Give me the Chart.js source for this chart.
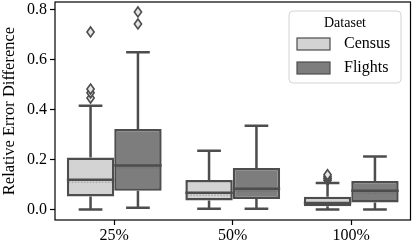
<!DOCTYPE html>
<html>
<head>
<meta charset="utf-8">
<script src="https://cdn.jsdelivr.net/npm/chart.js@4"></script>
<style>
  body { margin: 0; background: #fff; }
  canvas { display: block; }
</style>
</head>
<body>
<canvas id="boxChart" width="412" height="246"></canvas>
<script>
const categories = ["25%", "50%", "100%"];
const yTicks = [0.0, 0.2, 0.4, 0.6, 0.8];

// Census boxes
const censusLow = [0.0, 0.003, 0.0];
const censusQ1 = [0.053, 0.037, 0.014];
const censusMed = [0.12, 0.068, 0.027];
const censusQ3 = [0.209, 0.119, 0.052];
const censusHigh = [0.416, 0.236, 0.107];
const censusOut = [[0.447, 0.468, 0.483, 0.712], [], [0.118, 0.125, 0.132, 0.14]];

// Flights boxes
const flightsLow = [0.007, 0.003, 0.0];
const flightsQ1 = [0.076, 0.043, 0.029];
const flightsMed = [0.177, 0.084, 0.076];
const flightsQ3 = [0.323, 0.167, 0.115];
const flightsHigh = [0.631, 0.336, 0.213];
const flightsOut = [[0.744, 0.792], [], []];

const seriesNames = ["Census", "Flights"];
const fills = ["#d3d3d3", "#7d7d7d"];
const edge = "#4d4d4d";
const font = "Liberation Serif";

const stats = [
  { low: censusLow, med: censusMed, high: censusHigh, out: censusOut },
  { low: flightsLow, med: flightsMed, high: flightsHigh, out: flightsOut }
];

const boxExtras = {
  id: "boxExtras",
  beforeDatasetsDraw(chart) {
    // whiskers and caps
    const ctx = chart.ctx, y = chart.scales.y;
    ctx.save();
    ctx.strokeStyle = edge;
    ctx.lineWidth = 2.5;
    chart.data.datasets.forEach((ds, d) => {
      chart.getDatasetMeta(d).data.forEach((bar, i) => {
        const s = stats[d];
        const half = bar.width / 4;
        ctx.beginPath();
        ctx.moveTo(bar.x, y.getPixelForValue(s.low[i]));
        ctx.lineTo(bar.x, y.getPixelForValue(ds.data[i][0]));
        ctx.moveTo(bar.x, y.getPixelForValue(ds.data[i][1]));
        ctx.lineTo(bar.x, y.getPixelForValue(s.high[i]));
        ctx.moveTo(bar.x - half, y.getPixelForValue(s.low[i]));
        ctx.lineTo(bar.x + half, y.getPixelForValue(s.low[i]));
        ctx.moveTo(bar.x - half, y.getPixelForValue(s.high[i]));
        ctx.lineTo(bar.x + half, y.getPixelForValue(s.high[i]));
        ctx.stroke();
      });
    });
    ctx.restore();
  },
  afterDatasetsDraw(chart) {
    const ctx = chart.ctx, y = chart.scales.y;
    ctx.save();
    chart.data.datasets.forEach((ds, d) => {
      chart.getDatasetMeta(d).data.forEach((bar, i) => {
        const s = stats[d];
        const left = bar.x - bar.width / 2, right = bar.x + bar.width / 2;
        const my = y.getPixelForValue(s.med[i]);
        // faint dotted line under median
        ctx.strokeStyle = "rgba(90,90,90,0.5)";
        ctx.lineWidth = 1;
        ctx.setLineDash([1.5, 1.5]);
        ctx.beginPath();
        ctx.moveTo(left + 2, my + 2.5);
        ctx.lineTo(right - 2, my + 2.5);
        ctx.stroke();
        ctx.setLineDash([]);
        // median
        ctx.strokeStyle = edge;
        ctx.lineWidth = 2.5;
        ctx.beginPath();
        ctx.moveTo(left, my);
        ctx.lineTo(right, my);
        ctx.stroke();
        // outliers
        ctx.lineWidth = 1.6;
        ctx.fillStyle = "#e6e6e6";
        s.out[i].forEach(v => {
          const py = y.getPixelForValue(v);
          ctx.beginPath();
          ctx.moveTo(bar.x, py - 5);
          ctx.lineTo(bar.x + 3.6, py);
          ctx.lineTo(bar.x, py + 5);
          ctx.lineTo(bar.x - 3.6, py);
          ctx.closePath();
          ctx.fill();
          ctx.stroke();
        });
      });
    });
    ctx.restore();
  },
  afterDraw(chart) {
    const ctx = chart.ctx, a = chart.chartArea;
    ctx.save();
    // axes frame
    ctx.strokeStyle = "#000";
    ctx.lineWidth = 1.2;
    ctx.strokeRect(a.left, a.top, a.right - a.left, a.bottom - a.top);
    // legend
    const lx = 289, ly = 11, lw = 112, lh = 72, r = 4;
    ctx.fillStyle = "rgba(255,255,255,0.8)";
    ctx.strokeStyle = "#d4d4d4";
    ctx.lineWidth = 1;
    ctx.beginPath();
    ctx.roundRect(lx, ly, lw, lh, r);
    ctx.fill();
    ctx.stroke();
    ctx.fillStyle = "#000";
    ctx.textBaseline = "middle";
    ctx.textAlign = "center";
    ctx.font = "14px '" + font + "'";
    ctx.fillText("Dataset", lx + lw / 2, ly + 12);
    ctx.textAlign = "left";
    ctx.font = "16px '" + font + "'";
    seriesNames.forEach((name, k) => {
      const cy = ly + 33 + k * 24;
      ctx.fillStyle = fills[k];
      ctx.strokeStyle = edge;
      ctx.lineWidth = 1.2;
      ctx.fillRect(lx + 8, cy - 6, 33, 12);
      ctx.strokeRect(lx + 8, cy - 6, 33, 12);
      ctx.fillStyle = "#000";
      ctx.fillText(name, lx + 55, cy);
    });
    ctx.restore();
  }
};

new Chart("boxChart", {
  type: "bar",
  data: {
    labels: categories,
    datasets: [
      {
        label: seriesNames[0],
        data: categories.map((c, i) => [censusQ1[i], censusQ3[i]]),
        backgroundColor: fills[0],
        borderColor: edge,
        borderWidth: 2.5,
        borderSkipped: false
      },
      {
        label: seriesNames[1],
        data: categories.map((c, i) => [flightsQ1[i], flightsQ3[i]]),
        backgroundColor: fills[1],
        borderColor: edge,
        borderWidth: 2.5,
        borderSkipped: false
      }
    ]
  },
  options: {
    responsive: false,
    animation: false,
    categoryPercentage: 0.8,
    barPercentage: 1.0,
    layout: { padding: { top: 2, right: 1.5, left: 0, bottom: 0 } },
    plugins: {
      legend: { display: false },
      tooltip: { enabled: false }
    },
    scales: {
      x: {
        grid: { offset: false, drawOnChartArea: false, tickLength: 5, color: "#000", tickWidth: 1.2 },
        border: { display: false },
        ticks: { color: "#000", font: { family: font, size: 16 }, padding: 1 },
        afterFit(scale) {
          scale.height = 26;
          scale.paddingLeft = 0;
          scale.paddingRight = 0;
        }
      },
      y: {
        min: -0.0416,
        max: 0.832,
        afterBuildTicks(scale) { scale.ticks = yTicks.map(v => ({ value: v })); },
        grid: { drawOnChartArea: false, tickLength: 5, color: "#000", tickWidth: 1.2 },
        border: { display: false },
        ticks: {
          color: "#000",
          font: { family: font, size: 16 },
          padding: 3,
          callback: v => v.toFixed(1)
        },
        title: {
          display: true,
          text: "Relative Error Difference",
          color: "#000",
          font: { family: font, size: 16.5 },
          padding: { top: 0, bottom: 2 }
        },
        afterFit(scale) {
          scale.width = 55;
          scale.paddingTop = 0;
          scale.paddingBottom = 0;
        }
      }
    }
  },
  plugins: [boxExtras]
});
</script>
</body>
</html>
